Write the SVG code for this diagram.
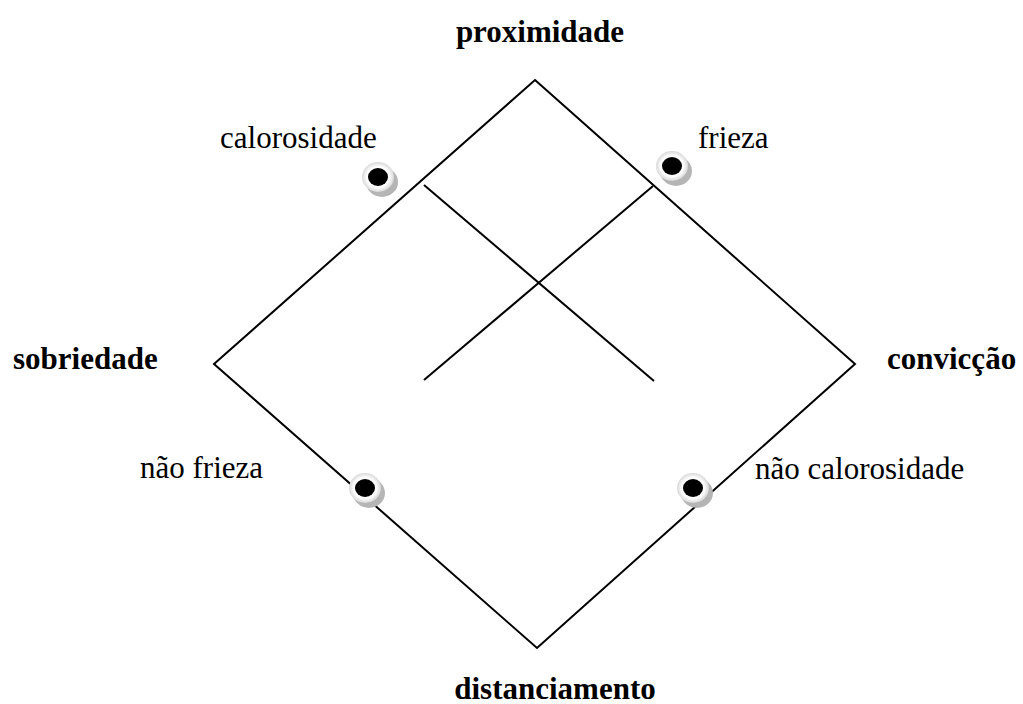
<svg xmlns="http://www.w3.org/2000/svg" width="1023" height="704" viewBox="0 0 1023 704">
<defs>
<radialGradient id="ring" cx="50%" cy="50%" r="50%">
<stop offset="0" stop-color="#ffffff"/>
<stop offset="0.7" stop-color="#ffffff"/>
<stop offset="1" stop-color="#d8d8d8"/>
</radialGradient>
<g id="dot">
<ellipse cx="4" cy="5" rx="16" ry="15" fill="#b5b5b5"/>
<ellipse cx="0" cy="0" rx="16" ry="15" fill="url(#ring)"/>
<ellipse cx="0" cy="0" rx="10" ry="9" fill="#000"/>
</g>
</defs>
<style>
.ln{stroke:#000;stroke-width:2;fill:none}
.b{font-family:"Liberation Serif","Times New Roman",serif;font-weight:bold;font-size:31px;fill:#000}
.r{font-family:"Liberation Serif","Times New Roman",serif;font-size:31px;fill:#000}
</style>
<rect width="1023" height="704" fill="#fff"/>
<g id="connectors">
<polygon class="ln" points="535,80 855,364 537,648 214,364"/>
<line class="ln" x1="424" y1="185" x2="654" y2="381"/>
<line class="ln" x1="424" y1="380" x2="653" y2="186"/>
</g>
<g id="dot-calorosidade"><use href="#dot" x="378" y="177"/></g>
<g id="dot-frieza"><use href="#dot" x="672" y="166"/></g>
<g id="dot-nao-frieza"><use href="#dot" x="365" y="488"/></g>
<g id="dot-nao-calorosidade"><use href="#dot" x="693" y="488"/></g>
<g id="label-proximidade"><text class="b" x="540" y="42" text-anchor="middle">proximidade</text></g>
<g id="label-sobriedade"><text class="b" x="13" y="369">sobriedade</text></g>
<g id="label-conviccao"><text class="b" x="887" y="369">convicção</text></g>
<g id="label-distanciamento"><text class="b" x="555" y="699" text-anchor="middle">distanciamento</text></g>
<g id="label-calorosidade"><text class="r" x="220" y="148">calorosidade</text></g>
<g id="label-frieza"><text class="r" x="698" y="148">frieza</text></g>
<g id="label-nao-frieza"><text class="r" x="140" y="478">não frieza</text></g>
<g id="label-nao-calorosidade"><text class="r" x="755" y="479">não calorosidade</text></g>
</svg>
